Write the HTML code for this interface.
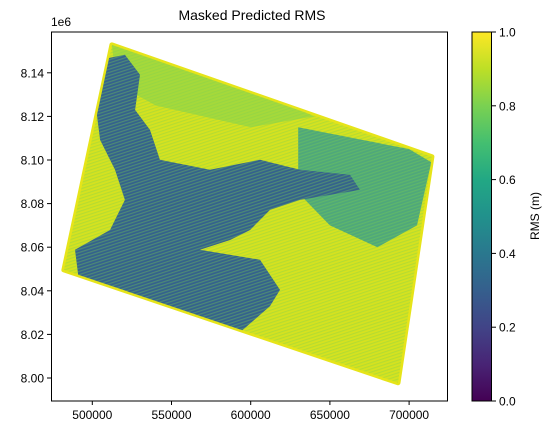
<!DOCTYPE html>
<html><head><meta charset="utf-8"><style>
body{margin:0;background:#fff;width:551px;height:435px;overflow:hidden;font-family:"Liberation Sans","DejaVu Sans",sans-serif}
</style></head><body>
<svg id="chart" width="551" height="435" viewBox="0 0 551 435" xmlns="http://www.w3.org/2000/svg">
<defs>
<linearGradient id="viridis" x1="0" y1="1" x2="0" y2="0">
<stop offset="0" stop-color="#440154"/><stop offset="0.1" stop-color="#482475"/><stop offset="0.2" stop-color="#414487"/><stop offset="0.3" stop-color="#355f8d"/><stop offset="0.4" stop-color="#2a788e"/><stop offset="0.5" stop-color="#21918c"/><stop offset="0.6" stop-color="#22a884"/><stop offset="0.7" stop-color="#44bf70"/><stop offset="0.8" stop-color="#7ad151"/><stop offset="0.9" stop-color="#bddf26"/><stop offset="1" stop-color="#fde725"/>
</linearGradient>
<pattern id="tex" width="6" height="3" patternUnits="userSpaceOnUse" patternTransform="rotate(-18)">
<rect width="6" height="1.2" fill="#7ad151" opacity="0.35"/>
</pattern>
<clipPath id="areaClip"><polygon id="clipPoly"/></clipPath>
</defs>
<text x="252" y="20" text-anchor="middle" font-size="14">Masked Predicted RMS</text>
<text x="51" y="26" font-size="12">1e6</text>
<g id="plot"></g>
<rect x="51.5" y="32" width="396" height="369" fill="none" stroke="#000" stroke-width="1"/>
<g id="axes"></g>
<rect x="472" y="32" width="19.5" height="369" fill="url(#viridis)" stroke="#000" stroke-width="1"/>
<g id="cbticks"></g>
<text transform="translate(539,216) rotate(-90)" text-anchor="middle" font-size="12">RMS (m)</text>
</svg>
<script>
const xTicks=[500000,550000,600000,650000,700000];
const xTickLabels=["500000","550000","600000","650000","700000"];
const yTicks=[8.00,8.02,8.04,8.06,8.08,8.10,8.12,8.14];
const yTickLabels=["8.00","8.02","8.04","8.06","8.08","8.10","8.12","8.14"];
const cbTicks=[0,0.2,0.4,0.6,0.8,1.0];
const cbTickLabels=["0.0","0.2","0.4","0.6","0.8","1.0"];
const areaX=[512400,714400,693000,482100];
const areaY=[8.1528,8.1015,7.9978,8.0496];
const darkX=[504900,520600,530100,527000,536400,542700,574300,605900,631100,662700,669000,631100,612200,599600,587000,568000,605900,618500,612200,599600,587000,568000,542700,517500,492200,489100,511200,520600,514300,504900,501700];
const darkY=[8.146,8.1483,8.1391,8.123,8.1138,8.1001,8.0955,8.1001,8.0955,8.0932,8.0863,8.0817,8.0771,8.0679,8.0633,8.0588,8.0542,8.0404,8.0330,8.0250,8.0170,8.0150,8.0200,8.0280,8.0410,8.0588,8.0679,8.0817,8.0955,8.1092,8.1276];
const tealX=[630000,700000,714000,705000,680000,650000,630000];
const tealY=[8.1150,8.1050,8.0990,8.0700,8.0600,8.0700,8.0850];
const greenX=[512400,600000,640000,600000,540000,515000];
const greenY=[8.1528,8.1330,8.1200,8.1150,8.1250,8.1350];
const X=v=>92.3+(v-500000)*79.2/50000;
const Y=v=>378-(v-8.00)*43.6/0.02;
const CB=v=>401-v*369;
const NS="http://www.w3.org/2000/svg";
function mk(tag,attrs,parent){const e=document.createElementNS(NS,tag);for(const k in attrs)e.setAttribute(k,attrs[k]);parent.appendChild(e);return e;}
function pts(xs,ys){return xs.map((x,i)=>X(x).toFixed(1)+","+Y(ys[i]).toFixed(1)).join(" ");}
document.getElementById('clipPoly').setAttribute('points',pts(areaX,areaY));
const root=document.getElementById('plot');
const edge=mk('polygon',{points:pts(areaX,areaY),fill:'#e0e31a',stroke:'#e6e419','stroke-width':5,'stroke-linejoin':'round'},root);


const plot=mk('g',{'clip-path':'url(#areaClip)'},root);
const base=mk('polygon',{points:pts(areaX,areaY),fill:'#d6e21f'},plot);


const g1=mk('polygon',{points:pts(greenX,greenY),fill:'#a6d93a'},plot);


const t1=mk('polygon',{points:pts(tealX,tealY),fill:'#4fa87a'},plot);


const d1=mk('polygon',{points:pts(darkX,darkY),fill:'#34628c'},plot);


const tx=mk('polygon',{points:pts(areaX,areaY),fill:'url(#tex)'},plot);


const axes=document.getElementById('axes');
xTicks.forEach((v,i)=>{
 const l=mk('line',{x1:X(v),x2:X(v),y1:401,y2:405,stroke:'#000'},axes);
 
 
 const t=mk('text',{x:X(v),y:419,'text-anchor':'middle','font-size':12},axes);
 t.textContent=xTickLabels[i];
 
 
});
yTicks.forEach((v,i)=>{
 const l=mk('line',{x1:47,x2:51.5,y1:Y(v),y2:Y(v),stroke:'#000'},axes);
 
 
 const t=mk('text',{x:44,y:Y(v)+4.5,'text-anchor':'end','font-size':12},axes);
 t.textContent=yTickLabels[i];
 
 
});
const cbg=document.getElementById('cbticks');
cbTicks.forEach((v,i)=>{
 const l=mk('line',{x1:491.5,x2:496,y1:CB(v),y2:CB(v),stroke:'#000'},cbg);
 
 
 const t=mk('text',{x:499,y:CB(v)+4.5,'font-size':12},cbg);
 t.textContent=cbTickLabels[i];
 
 
});
</script>
</body></html>
